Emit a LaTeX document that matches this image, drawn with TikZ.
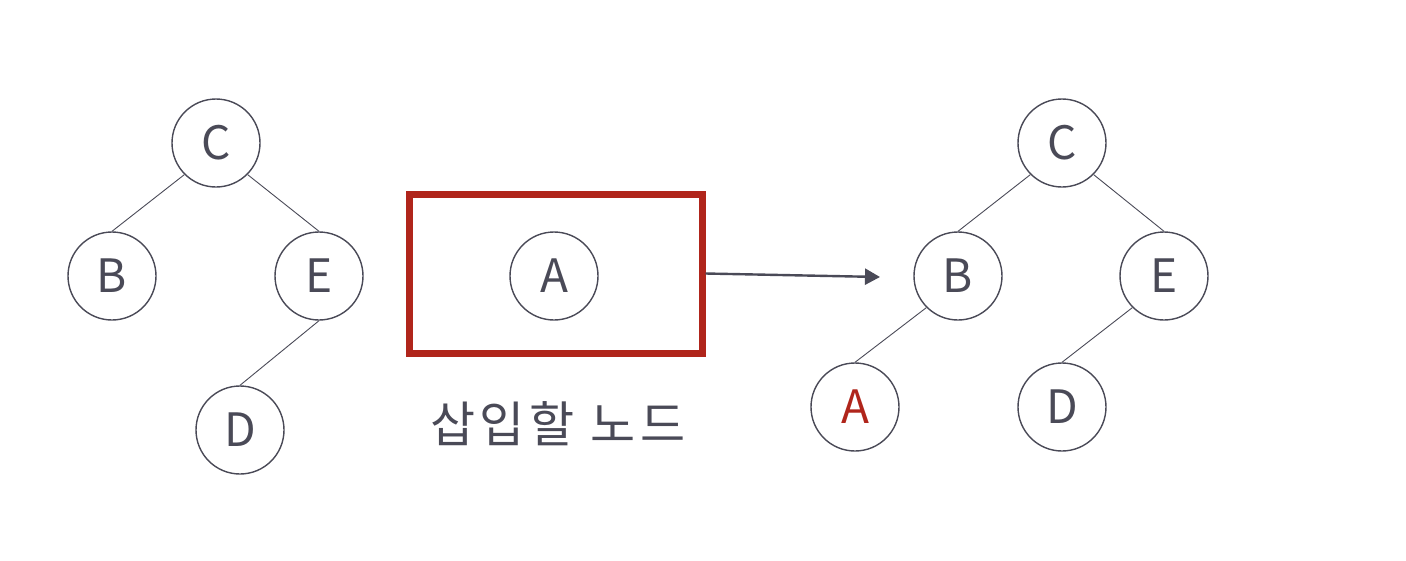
\documentclass[tikz,border=0pt]{standalone}
\usepackage{fontspec}
\setmainfont{Noto Sans CJK KR}
\newfontfamily\korwide[LetterSpace=10]{Noto Sans CJK KR}
\usetikzlibrary{arrows.meta}
\definecolor{ink}{HTML}{4A4A57}
\definecolor{redbox}{HTML}{B0251B}
\begin{document}
\begin{tikzpicture}[x=1pt,y=-1pt,
  tnode/.style={circle,draw=ink,line width=1.4pt,minimum size=88pt,inner sep=0pt,
    text=ink,font=\fontsize{46}{46}\selectfont},
  edge/.style={draw=ink,line width=0.9pt}]
\useasboundingbox (0,0) rectangle (1406,560);
% left tree
\node[tnode] (c1) at (216,143) {C};
\node[tnode] (b1) at (112,276) {B};
\node[tnode] (e1) at (319,276) {E};
\node[tnode] (d1) at (240,430) {D};
\draw[edge] (c1.south west) -- (b1.north);
\draw[edge] (c1.south east) -- (e1.north);
\draw[edge] (e1.south) -- (d1.north);
% box
\node[draw=redbox,line width=7pt,minimum width=293pt,minimum height=159pt,inner sep=0pt] (box) at (555.5,273.5) {};
\node[tnode] (a0) at (554,276) {A};
\node[text=ink,font=\korwide\fontsize{49}{49}\selectfont] (lbl) at (558,424) {삽입할 노드};
% right tree
\node[tnode] (c2) at (1062,143) {C};
\node[tnode] (b2) at (958,276) {B};
\node[tnode] (e2) at (1164,276) {E};
\node[tnode,text=redbox] (a2) at (855,407) {A};
\node[tnode] (d2) at (1062,407) {D};
\draw[edge] (c2.south west) -- (b2.north);
\draw[edge] (c2.south east) -- (e2.north);
\draw[edge] (b2.south west) -- (a2.north);
\draw[edge] (e2.south west) -- (d2.north);
% arrow
\coordinate (tip) at (880,277);
\draw[draw=ink,line width=2.4pt,-{Triangle[length=15pt,width=16pt]}] (box.east) -- (tip);
\end{tikzpicture}
\end{document}
